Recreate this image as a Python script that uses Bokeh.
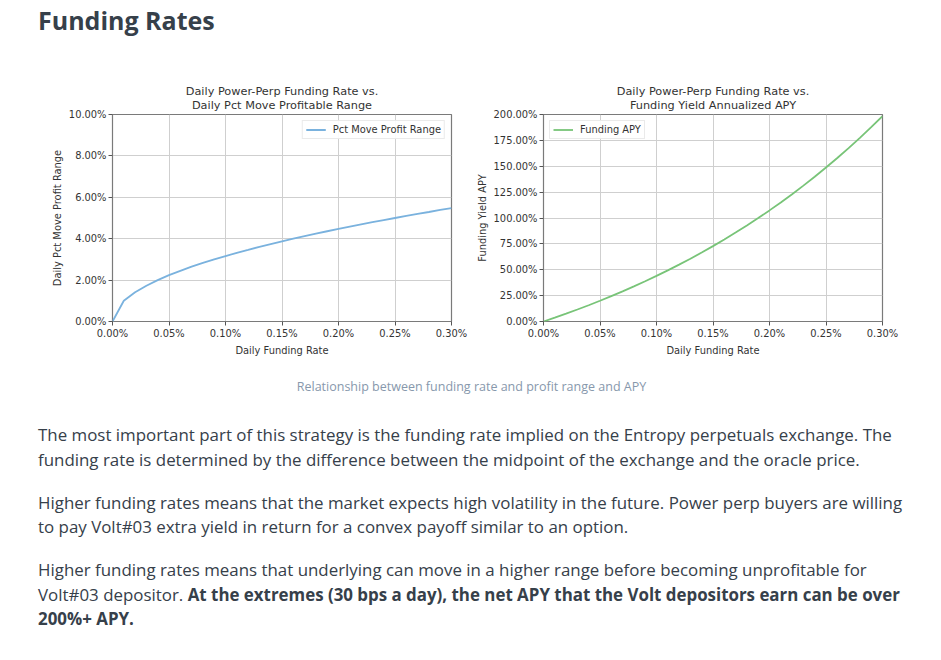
from bokeh.plotting import figure
from bokeh.models import (Range1d, PrintfTickFormatter, FixedTicker, Title, Div,
                          ColumnDataSource, Legend, LegendItem)
from bokeh.layouts import column, row
from bokeh.embed import file_html
from bokeh.resources import INLINE

# ---- data ----
funding_rate = [0.00, 0.01, 0.02, 0.03, 0.04, 0.05, 0.06, 0.07, 0.08, 0.09, 0.10,
                0.11, 0.12, 0.13, 0.14, 0.15, 0.16, 0.17, 0.18, 0.19, 0.20,
                0.21, 0.22, 0.23, 0.24, 0.25, 0.26, 0.27, 0.28, 0.29, 0.30]
pct_move_range = [0.00, 1.00, 1.41, 1.73, 2.00, 2.24, 2.45, 2.65, 2.83, 3.00, 3.16,
                  3.32, 3.46, 3.61, 3.74, 3.87, 4.00, 4.12, 4.24, 4.36, 4.47,
                  4.58, 4.69, 4.80, 4.90, 5.00, 5.10, 5.20, 5.29, 5.39, 5.48]
funding_apy = [0.00, 3.72, 7.57, 11.57, 15.72, 20.02, 24.48, 29.10, 33.89, 38.87, 44.03,
               49.37, 54.92, 60.67, 66.64, 72.82, 79.24, 85.89, 92.79, 99.94, 107.36,
               115.05, 123.02, 131.30, 139.87, 148.77, 157.99, 167.56, 177.47, 187.76, 198.42]
x_ticks = [0.00, 0.05, 0.10, 0.15, 0.20, 0.25, 0.30]
y1_ticks = [0, 2, 4, 6, 8, 10]
y2_ticks = [0, 25, 50, 75, 100, 125, 150, 175, 200]

title1 = ["Daily Power-Perp Funding Rate vs.", "Daily Pct Move Profitable Range"]
title2 = ["Daily Power-Perp Funding Rate vs.", "Funding Yield Annualized APY"]

MPL_FONT = "DejaVu Sans"
TXT = "#333333"
SMALL = "9.9px"


def make_chart(y, color, legend_label, legend_loc, ymax, yticks, ylabel, titles,
               width, bl, br):
    p = figure(width=width, height=305, output_backend="svg", toolbar_location=None,
               x_range=Range1d(0, 0.30), y_range=Range1d(0, ymax),
               min_border_left=bl, min_border_right=br,
               min_border_top=54, min_border_bottom=44)
    p.background_fill_color = "white"
    p.border_fill_color = "white"
    p.outline_line_color = "#7a7a7a"
    p.outline_line_width = 1.2
    src = ColumnDataSource(dict(x=funding_rate, y=y))
    r = p.line("x", "y", source=src, line_color=color, line_width=1.8)

    for ax in (p.xaxis[0], p.yaxis[0]):
        ax.axis_line_color = None
        ax.major_tick_line_color = "#555555"
        ax.major_tick_out = 4
        ax.major_tick_in = 0
        ax.minor_tick_line_color = None
        ax.major_label_text_font = MPL_FONT
        ax.major_label_text_font_size = SMALL
        ax.major_label_text_color = TXT
        ax.axis_label_text_font = MPL_FONT
        ax.axis_label_text_font_size = SMALL
        ax.axis_label_text_font_style = "normal"
        ax.axis_label_text_color = TXT
        ax.major_label_standoff = 2
        ax.axis_label_standoff = 3
    p.xaxis[0].ticker = FixedTicker(ticks=x_ticks)
    p.xaxis[0].formatter = PrintfTickFormatter(format="%.2f%%")
    p.xaxis[0].axis_label = "Daily Funding Rate"
    p.yaxis[0].ticker = FixedTicker(ticks=yticks)
    p.yaxis[0].formatter = PrintfTickFormatter(format="%.2f%%")
    p.yaxis[0].axis_label = ylabel

    for g in (p.xgrid[0], p.ygrid[0]):
        g.grid_line_color = "#cfcfcf"
        g.grid_line_width = 1

    legend = Legend(items=[LegendItem(label=legend_label, renderers=[r])],
                    location=legend_loc)
    legend.label_text_font = MPL_FONT
    legend.label_text_font_size = SMALL
    legend.label_text_color = TXT
    legend.border_line_color = "#d6d6d6"
    legend.border_line_width = 1
    legend.background_fill_alpha = 0.9
    legend.glyph_width = 20
    legend.glyph_height = 9
    legend.label_height = 9
    legend.padding = 3
    legend.spacing = 0
    legend.margin = 6
    legend.label_standoff = 7
    p.add_layout(legend)

    # second line first (closest to the plot), then first line above it
    for i, t in enumerate(reversed(titles)):
        p.add_layout(Title(text=t, align="center", text_font=MPL_FONT,
                           text_font_size="11.3px", text_font_style="normal",
                           text_color=TXT, standoff=-6 if i else 5,
                           offset=0), "above")
    return p


p1 = make_chart(pct_move_range, "#7ab2de", "Pct Move Profit Range", "top_right",
                10, y1_ticks, "Daily Pct Move Profit Range", title1, 470, 112, 19)
p2 = make_chart(funding_apy, "#78c478", "Funding APY", "top_left",
                200, y2_ticks, "Funding Yield APY", title2, 463, 73, 51)

FONT = "'Open Sans', sans-serif"
DARK = "#36404a"

title_div = Div(width=933, height=60, margin=0, text=(
    f"<div style=\"font-family:{FONT};font-size:25px;font-weight:700;color:{DARK};"
    f"line-height:24px;padding-left:38px;padding-top:8px;white-space:nowrap;\">Funding Rates</div>"))

caption_div = Div(width=933, height=40, margin=0, text=(
    f"<div style=\"width:925px;text-align:center;font-family:{FONT};font-size:12.5px;"
    f"color:#8798ac;line-height:16px;padding-top:14px;padding-left:18px;"
    f"white-space:nowrap;\">"
    "Relationship between funding rate and profit range and APY</div>"))

P = (f"margin:0 0 18.5px 0;font-family:{FONT};font-size:16.9px;color:{DARK};"
     f"line-height:24.5px;white-space:nowrap;")
para_div = Div(width=933, height=240, margin=0, text=(
    f"<div style=\"padding-left:38px;padding-top:18px;\">"
    f"<p style=\"{P}\">The most important part of this strategy is the funding rate implied on the Entropy perpetuals exchange. The<br>"
    "funding rate is determined by the difference between the midpoint of the exchange and the oracle price.</p>"
    f"<p style=\"{P}\">Higher funding rates means that the market expects high volatility in the future. Power perp buyers are willing<br>"
    "to pay Volt#03 extra yield in return for a convex payoff similar to an option.</p>"
    f"<p style=\"{P}\">Higher funding rates means that underlying can move in a higher range before becoming unprofitable for<br>"
    "Volt#03 depositor. <b>At the extremes (30 bps a day), the net APY that the Volt depositors earn can be over<br>"
    "200%+ APY.</b></p></div>"))

layout = column(title_div, row(p1, p2, spacing=0), caption_div, para_div, spacing=0)

open("out.html", "w").write(file_html(layout, INLINE))
